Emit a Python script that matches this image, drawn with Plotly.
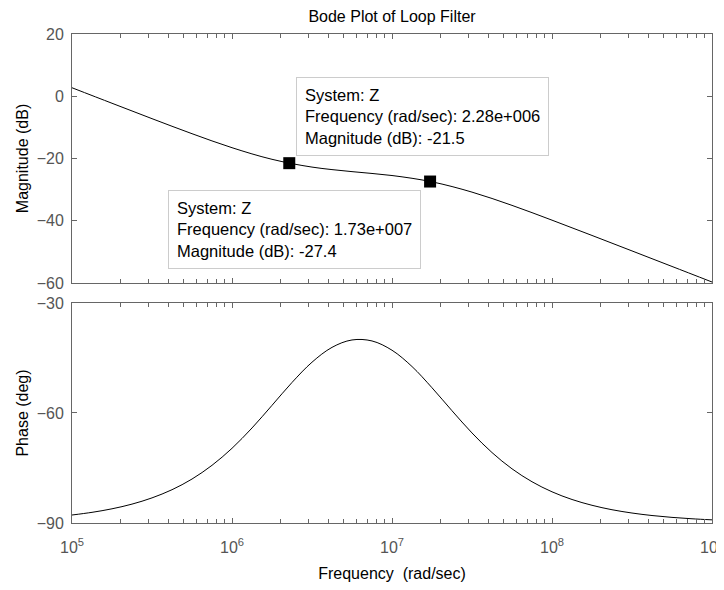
import math
import plotly.graph_objects as go

# ---- data ----
freq_mag = [1e5, 1.778e5, 3.162e5, 5.623e5, 1e6, 1.778e6, 3.162e6, 5.623e6,
            1e7, 1.778e7, 3.162e7, 5.623e7, 1e8, 1.778e8, 3.162e8, 5.623e8, 1e9]
mag_db = [2.73, -2.25, -7.20, -12.03, -16.53, -20.26, -22.76, -24.22,
          -25.47, -27.50, -30.80, -35.06, -39.81, -44.72, -49.69, -54.68, -59.68]

freq_phase = [1e5, 1.334e5, 1.778e5, 2.371e5, 3.162e5, 4.217e5, 5.623e5, 7.499e5,
              1e6, 1.334e6, 1.778e6, 2.371e6, 3.162e6, 4.217e6, 5.623e6, 7.499e6,
              1e7, 1.334e7, 1.778e7, 2.371e7, 3.162e7, 4.217e7, 5.623e7, 7.499e7,
              1e8, 1.334e8, 1.778e8, 2.371e8, 3.162e8, 4.217e8, 5.623e8, 7.499e8, 1e9]
phase_deg = [-87.82, -87.09, -86.13, -84.85, -83.15, -80.92, -78.01, -74.27,
             -69.63, -64.08, -57.92, -51.68, -46.15, -42.10, -40.08, -40.35,
             -42.88, -47.33, -53.11, -59.38, -65.44, -70.79, -75.22, -78.75,
             -81.49, -83.59, -85.17, -86.38, -87.28, -87.96, -88.47, -88.85, -89.14]

tip_freq = [2.28e6, 1.73e7]
tip_mag = [-21.5, -27.4]
tip_freq_text = ["2.28e+006", "1.73e+007"]

x_tickvals = [1e5, 1e6, 1e7, 1e8, 1e9]
x_ticktext = ["10<sup>5</sup>", "10<sup>6</sup>", "10<sup>7</sup>",
              "10<sup>8</sup>", "10<sup>9</sup>"]
mag_ticks = [20, 0, -20, -40, -60]
phase_ticks = [-30, -60, -90]

FONT = "Liberation Sans, Arial, sans-serif"
AXC = "#666666"
TICKC = "#555555"
W, H = 716, 582  # page body has an 8px margin

fig = go.Figure()
fig.add_trace(go.Scatter(x=freq_mag, y=mag_db, mode="lines",
                         line=dict(color="black", width=1, shape="spline"),
                         xaxis="x", yaxis="y", showlegend=False, hoverinfo="skip"))
fig.add_trace(go.Scatter(x=tip_freq, y=tip_mag, mode="markers",
                         marker=dict(symbol="square", size=12, color="black"),
                         xaxis="x", yaxis="y", showlegend=False))
fig.add_trace(go.Scatter(x=freq_phase, y=phase_deg, mode="lines",
                         line=dict(color="black", width=1, shape="spline"),
                         xaxis="x2", yaxis="y2", showlegend=False, hoverinfo="skip"))

common_x = dict(type="log", range=[4.99999, 9.00001], showgrid=False, zeroline=False,
                showline=True, linecolor=AXC, linewidth=1, mirror="ticks",
                ticks="inside", ticklen=5, tickcolor=AXC, automargin=False,
                tickvals=x_tickvals,
                minor=dict(ticks="inside", ticklen=4, tickcolor=AXC,
                           dtick="D1", showgrid=False))
common_y = dict(showgrid=False, zeroline=False, showline=True, linecolor=AXC,
                linewidth=1, mirror="ticks", ticks="inside", ticklen=5,
                tickcolor=AXC, tickfont=dict(family=FONT, size=16, color=TICKC),
                ticklabelstandoff=4, automargin=False)

fig.update_layout(
    width=W, height=H,
    margin=dict(l=64, r=12, t=26, b=67),
    paper_bgcolor="white", plot_bgcolor="white",
    font=dict(family=FONT, size=16, color="black"),
    title=dict(text="Bode Plot of Loop Filter", x=0.5, xref="paper",
               y=1 - 8.5 / H, yref="container", yanchor="middle",
               font=dict(family=FONT, size=16, color="black")),
    xaxis=dict(common_x, anchor="y", showticklabels=False),
    yaxis=dict(common_y, domain=[0.4908, 1], range=[-60, 20],
               tickvals=mag_ticks,
               title=dict(text="Magnitude (dB)", standoff=4,
                          font=dict(family=FONT, size=16, color="black"))),
    xaxis2=dict(common_x, anchor="y2", matches="x", ticktext=x_ticktext,
                tickfont=dict(family=FONT, size=16, color=TICKC),
                ticklabelstandoff=10, ticklabeloverflow="allow",
                title=dict(text="Frequency&nbsp; (rad/sec)", standoff=12,
                           font=dict(family=FONT, size=16, color="black"))),
    yaxis2=dict(common_y, domain=[0, 0.4499], range=[-90, -30],
                tickvals=phase_ticks,
                title=dict(text="Phase (deg)", standoff=4,
                           font=dict(family=FONT, size=16, color="black"))),
)

shifts = [dict(xanchor="left", yanchor="bottom", xshift=7, yshift=7),
          dict(xanchor="right", yanchor="top", xshift=-9, yshift=-8)]
for f, m, ft, s in zip(tip_freq, tip_mag, tip_freq_text, shifts):
    fig.add_annotation(
        x=math.log10(f), y=m, xref="x", yref="y", showarrow=False,
        text=f"System: Z<br>Frequency (rad/sec): {ft}<br>Magnitude (dB): {m}",
        align="left", font=dict(family=FONT, size=16.5, color="black"),
        bgcolor="white", bordercolor="#cccccc", borderwidth=1, borderpad=8,
        **s)

fig.write_html("out.html")
